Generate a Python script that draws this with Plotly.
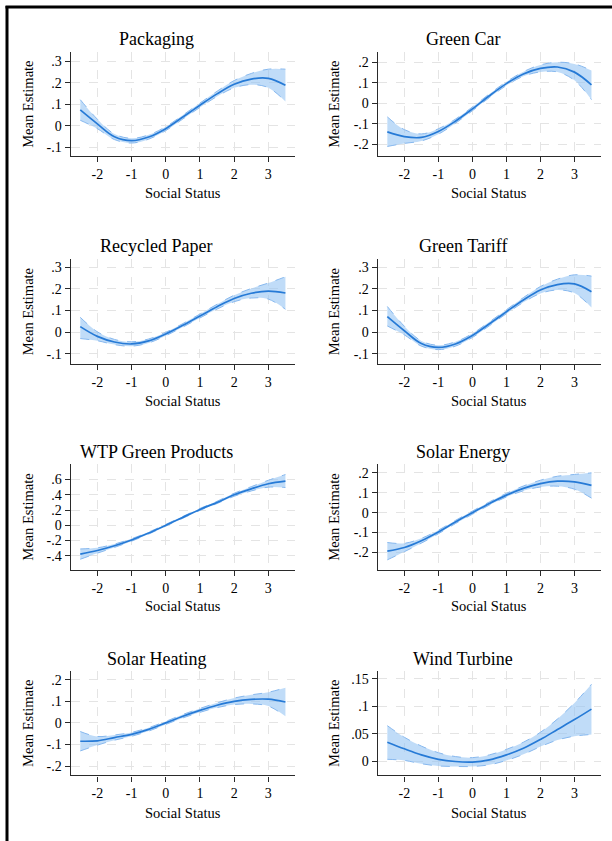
import plotly.graph_objects as go

# Social status grid shared by all panels
status = [-2.5, -2, -1.5, -1, -0.5, 0, 0.5, 1, 1.5, 2, 2.5, 3, 3.5]

titles = ["Packaging", "Green Car", "Recycled Paper", "Green Tariff",
          "WTP Green Products", "Solar Energy", "Solar Heating", "Wind Turbine"]

packaging_mean = [0.073, 0.008, -0.052, -0.070, -0.053, -0.014, 0.040, 0.095, 0.148, 0.193, 0.217, 0.220, 0.188]
packaging_lo = [0.025, -0.014, -0.065, -0.081, -0.063, -0.023, 0.031, 0.085, 0.136, 0.176, 0.191, 0.177, 0.113]
packaging_hi = [0.121, 0.030, -0.039, -0.059, -0.043, -0.005, 0.049, 0.105, 0.160, 0.210, 0.243, 0.263, 0.263]

greencar_mean = [-0.139, -0.162, -0.166, -0.137, -0.087, -0.027, 0.037, 0.096, 0.143, 0.170, 0.177, 0.152, 0.090]
greencar_lo = [-0.210, -0.195, -0.183, -0.150, -0.097, -0.036, 0.028, 0.087, 0.132, 0.153, 0.153, 0.112, 0.018]
greencar_hi = [-0.066, -0.128, -0.149, -0.124, -0.077, -0.018, 0.046, 0.105, 0.154, 0.187, 0.200, 0.192, 0.160]

recycled_mean = [0.025, -0.020, -0.046, -0.055, -0.041, -0.009, 0.031, 0.074, 0.117, 0.155, 0.179, 0.189, 0.180]
recycled_lo = [-0.030, -0.040, -0.058, -0.065, -0.050, -0.017, 0.023, 0.065, 0.106, 0.140, 0.157, 0.152, 0.105]
recycled_hi = [0.068, 0.001, -0.034, -0.045, -0.032, -0.001, 0.039, 0.083, 0.128, 0.170, 0.201, 0.226, 0.255]

tariff_mean = [0.071, 0.006, -0.053, -0.071, -0.055, -0.016, 0.038, 0.094, 0.148, 0.194, 0.219, 0.222, 0.186]
tariff_lo = [0.028, -0.013, -0.065, -0.081, -0.065, -0.025, 0.029, 0.085, 0.137, 0.178, 0.194, 0.180, 0.113]
tariff_hi = [0.118, 0.027, -0.041, -0.061, -0.045, -0.007, 0.047, 0.103, 0.159, 0.210, 0.244, 0.264, 0.258]

wtp_mean = [-0.378, -0.330, -0.268, -0.192, -0.102, 0.000, 0.104, 0.208, 0.300, 0.400, 0.478, 0.545, 0.578]
wtp_lo = [-0.445, -0.365, -0.290, -0.208, -0.115, -0.012, 0.092, 0.195, 0.285, 0.380, 0.450, 0.500, 0.495]
wtp_hi = [-0.310, -0.295, -0.246, -0.176, -0.089, 0.012, 0.116, 0.221, 0.315, 0.420, 0.506, 0.590, 0.665]

solar_mean = [-0.193, -0.175, -0.141, -0.097, -0.047, 0.000, 0.046, 0.088, 0.122, 0.146, 0.158, 0.155, 0.137]
solar_lo = [-0.237, -0.196, -0.153, -0.106, -0.055, -0.008, 0.038, 0.079, 0.110, 0.129, 0.133, 0.118, 0.073]
solar_hi = [-0.150, -0.154, -0.129, -0.088, -0.039, 0.008, 0.054, 0.097, 0.134, 0.163, 0.183, 0.192, 0.200]

heating_mean = [-0.085, -0.083, -0.068, -0.053, -0.030, 0.000, 0.031, 0.058, 0.082, 0.100, 0.109, 0.110, 0.097]
heating_lo = [-0.130, -0.103, -0.080, -0.062, -0.038, -0.007, 0.023, 0.049, 0.071, 0.085, 0.088, 0.078, 0.031]
heating_hi = [-0.040, -0.063, -0.056, -0.044, -0.022, 0.007, 0.039, 0.067, 0.093, 0.115, 0.130, 0.142, 0.163]

wind_mean = [0.035, 0.023, 0.012, 0.004, 0.000, -0.001, 0.003, 0.012, 0.024, 0.040, 0.058, 0.076, 0.095]
wind_lo = [0.004, 0.002, -0.004, -0.008, -0.009, -0.009, -0.006, 0.002, 0.013, 0.027, 0.039, 0.046, 0.049]
wind_hi = [0.065, 0.044, 0.028, 0.016, 0.009, 0.007, 0.012, 0.022, 0.035, 0.053, 0.077, 0.106, 0.140]

x_ticks = [-2, -1, 0, 1, 2, 3]
y_ticks_a = [-0.1, 0, 0.1, 0.2, 0.3]
y_labels_a = ["-.1", "0", ".1", ".2", ".3"]
y_ticks_b = [-0.2, -0.1, 0, 0.1, 0.2]
y_labels_b = ["-.2", "-.1", "0", ".1", ".2"]
y_ticks_wtp = [-0.4, -0.2, 0, 0.2, 0.4, 0.6]
y_labels_wtp = ["-.4", "-.2", "0", ".2", ".4", ".6"]
y_ticks_wind = [0, 0.05, 0.1, 0.15]
y_labels_wind = ["0", ".05", ".1", ".15"]

W, H = 612, 841


def fx(px):
    return px / W


def fy(py):
    return 1 - py / H


panels = [
    (packaging_mean, packaging_lo, packaging_hi, y_ticks_a, y_labels_a, [-0.14, 0.343]),
    (greencar_mean, greencar_lo, greencar_hi, y_ticks_b, y_labels_b, [-0.255, 0.25]),
    (recycled_mean, recycled_lo, recycled_hi, y_ticks_a, y_labels_a, [-0.146, 0.337]),
    (tariff_mean, tariff_lo, tariff_hi, y_ticks_a, y_labels_a, [-0.146, 0.337]),
    (wtp_mean, wtp_lo, wtp_hi, y_ticks_wtp, y_labels_wtp, [-0.586, 0.81]),
    (solar_mean, solar_lo, solar_hi, y_ticks_b, y_labels_b, [-0.288, 0.247]),
    (heating_mean, heating_lo, heating_hi, y_ticks_b, y_labels_b, [-0.243, 0.243]),
    (wind_mean, wind_lo, wind_hi, y_ticks_wind, y_labels_wind, [-0.025, 0.165]),
]

# pixel layout of the plot regions
col_x = [(70.7, 295.0), (377.8, 601.0)]
row_y = [(52.0, 155.7), (259.0, 363.7), (463.5, 570.0), (670.5, 775.3)]
title_x = [156, 463]
title_y = [39, 246, 452, 659]
xtitle_y = [193, 400.7, 605.7, 812.7]
ytitle_x = [28, 334]

FONT = "Liberation Serif"
LINE = "rgb(38,122,214)"
EDGE = "rgb(135,184,238)"
FILL = "rgba(150,196,243,0.6)"
AXIS = "#2a2a2a"
GRID = "#e4e4e4"

fig = go.Figure()
annotations = []
layout_axes = {}

for i, (mean, lo, hi, yt, yl, yr) in enumerate(panels):
    r, c = divmod(i, 2)
    n = i + 1
    xa = "x" if n == 1 else f"x{n}"
    ya = "y" if n == 1 else f"y{n}"

    fig.add_trace(go.Scatter(x=status, y=hi, xaxis=xa, yaxis=ya, mode="lines",
                             line=dict(color=EDGE, width=1, dash="dash", shape="spline"),
                             hoverinfo="skip", showlegend=False))
    fig.add_trace(go.Scatter(x=status, y=lo, xaxis=xa, yaxis=ya, mode="lines",
                             line=dict(color=EDGE, width=1, dash="dash", shape="spline"),
                             fill="tonexty", fillcolor=FILL,
                             hoverinfo="skip", showlegend=False))
    fig.add_trace(go.Scatter(x=status, y=mean, xaxis=xa, yaxis=ya, mode="lines",
                             line=dict(color=LINE, width=1.7, shape="spline"),
                             showlegend=False))

    x0, x1 = col_x[c]
    y0, y1 = row_y[r]
    common = dict(showline=True, linecolor=AXIS, linewidth=1.4,
                  ticks="outside", ticklen=5, tickcolor=AXIS, tickwidth=1.3,
                  showgrid=True, gridcolor=GRID, griddash="dash", gridwidth=1,
                  zeroline=False,
                  tickfont=dict(family=FONT, size=14, color="black"))
    layout_axes["xaxis" if n == 1 else f"xaxis{n}"] = dict(
        domain=[fx(x0), fx(x1)], anchor=ya, range=[-2.78, 3.78],
        tickvals=x_ticks, ticktext=[str(v) for v in x_ticks], **common)
    layout_axes["yaxis" if n == 1 else f"yaxis{n}"] = dict(
        domain=[fy(y1), fy(y0)], anchor=xa, range=yr,
        tickvals=yt, ticktext=yl, **common)

    annotations.append(dict(text=titles[i], x=fx(title_x[c]), y=fy(title_y[r]),
                            xref="paper", yref="paper", showarrow=False,
                            xanchor="center", yanchor="middle",
                            font=dict(family=FONT, size=18, color="black")))
    annotations.append(dict(text="Social Status", x=fx((x0 + x1) / 2), y=fy(xtitle_y[r]),
                            xref="paper", yref="paper", showarrow=False,
                            xanchor="center", yanchor="middle",
                            font=dict(family=FONT, size=14.5, color="black")))
    annotations.append(dict(text="Mean Estimate", x=fx(ytitle_x[c]), y=fy((y0 + y1) / 2),
                            xref="paper", yref="paper", showarrow=False, textangle=-90,
                            xanchor="center", yanchor="middle",
                            font=dict(family=FONT, size=14.5, color="black")))

# frame along the left and top edges
shapes = [
    dict(type="line", xref="paper", yref="paper", x0=fx(7), x1=fx(7), y0=0, y1=fy(6),
         line=dict(color="black", width=3)),
    dict(type="line", xref="paper", yref="paper", x0=fx(5.5), x1=1, y0=fy(7), y1=fy(7),
         line=dict(color="black", width=3)),
]

fig.update_layout(width=W, height=H, margin=dict(l=0, r=0, t=0, b=0),
                  paper_bgcolor="white", plot_bgcolor="white",
                  annotations=annotations, shapes=shapes, **layout_axes)

fig.write_html("out.html")
